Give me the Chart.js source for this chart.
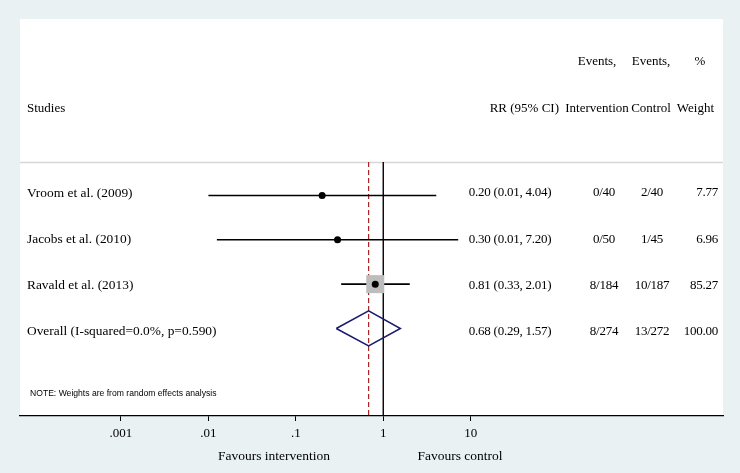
<!DOCTYPE html>
<html>
<head>
<meta charset="utf-8">
<script src="https://cdn.jsdelivr.net/npm/chart.js@4"></script>
<style>
  html, body { margin: 0; padding: 0; background: #e9f1f3; }
  #wrap { width: 740px; height: 473px; }
</style>
</head>
<body>
<div id="wrap"><canvas id="forest" width="740" height="473"></canvas></div>
<script>
// forest plot — RR with 95% CI per study, random effects pooled estimate

const studies = ['Vroom et al. (2009)', 'Jacobs et al. (2010)', 'Ravald et al. (2013)'];
const rr = [0.20, 0.30, 0.81];
const lower = [0.01, 0.0125, 0.33];
const upper = [4.04, 7.20, 2.01];
const weights = [7.77, 6.96, 85.27];
const eventsInt = ['0/40', '0/50', '8/184'];
const eventsCtl = ['2/40', '1/45', '10/187'];

const overallLabel = 'Overall (I-squared=0.0%, p=0.590)';
const overallRR = 0.68;
const overallLower = 0.29;
const overallUpper = 1.57;
const overallInt = '8/274';
const overallCtl = '13/272';
const overallWeight = 100.00;

const xTicks = [0.001, 0.01, 0.1, 1, 10];
const xTickLabels = ['.001', '.01', '.1', '1', '10'];

const COLORS = {
  page: '#e9f1f3',
  panel: '#ffffff',
  ink: '#000000',
  square: '#bdbdbd',
  diamond: '#1a1a6e',
  overallLine: '#a8282a',
  separator: '#d6d6d6',
};

const SERIF = "'Liberation Serif', 'Times New Roman', serif";
const SANS = "'Liberation Sans', Arial, sans-serif";

const Y_MIN = -3.98;
const Y_MAX = 4.974;
const SEP_Y = -0.756;
const OVERALL_ROW = studies.length;
const DIAMOND_H = 0.395;

// table text rows sit on a slightly wider pitch than the plotted marks
const TEXT_TOP = 193;
const TEXT_PITCH = 46.3;

const ciLines = studies.map((s, i) => ({
  type: 'line',
  data: [{ x: lower[i], y: i }, { x: upper[i], y: i }],
  borderColor: COLORS.ink,
  borderWidth: 1.6,
  pointRadius: 0,
  order: 3,
}));

const datasets = [
  ...ciLines,
  {
    type: 'line',
    data: [{ x: 1, y: SEP_Y }, { x: 1, y: Y_MAX }],
    borderColor: COLORS.ink,
    borderWidth: 1.4,
    pointRadius: 0,
    order: 4,
  },
  {
    type: 'line',
    data: [{ x: overallRR, y: SEP_Y }, { x: overallRR, y: Y_MAX }],
    borderColor: COLORS.overallLine,
    borderWidth: 1.2,
    borderDash: [5, 3],
    pointRadius: 0,
    order: 4,
  },
  {
    type: 'scatter',
    data: studies.map((s, i) => ({ x: rr[i], y: i })),
    pointStyle: 'rect',
    pointRadius: weights.map((w) => Math.sqrt(w) * 1.38),
    backgroundColor: COLORS.square,
    borderWidth: 0,
    order: 2,
  },
  {
    type: 'scatter',
    data: studies.map((s, i) => ({ x: rr[i], y: i })),
    pointStyle: 'circle',
    pointRadius: 3.5,
    backgroundColor: COLORS.ink,
    borderWidth: 0,
    order: 1,
  },
  {
    type: 'line',
    data: [
      { x: overallLower, y: OVERALL_ROW },
      { x: overallRR, y: OVERALL_ROW - DIAMOND_H },
      { x: overallUpper, y: OVERALL_ROW },
      { x: overallRR, y: OVERALL_ROW + DIAMOND_H },
      { x: overallLower, y: OVERALL_ROW },
    ],
    borderColor: COLORS.diamond,
    borderWidth: 1.5,
    pointRadius: 0,
    tension: 0,
    order: 1,
  },
];

function fmtCI(est, lo, hi) {
  return `${est.toFixed(2)} (${lo.toFixed(2)}, ${hi.toFixed(2)})`;
}

const panelPlugin = {
  id: 'panel',
  beforeDraw(chart) {
    const { ctx, chartArea: a, scales } = chart;
    ctx.save();
    ctx.fillStyle = COLORS.page;
    ctx.fillRect(0, 0, chart.width, chart.height);
    ctx.fillStyle = COLORS.panel;
    ctx.fillRect(a.left, a.top, a.right - a.left, a.bottom - a.top);
    const sy = Math.round(scales.y.getPixelForValue(SEP_Y)) + 0.5;
    ctx.strokeStyle = COLORS.separator;
    ctx.lineWidth = 1.5;
    ctx.beginPath();
    ctx.moveTo(a.left, sy);
    ctx.lineTo(a.right, sy);
    ctx.stroke();
    ctx.restore();
  },
};

const tablePlugin = {
  id: 'table',
  afterDraw(chart) {
    const { ctx } = chart;
    ctx.save();
    ctx.fillStyle = COLORS.ink;
    ctx.textBaseline = 'middle';
    ctx.font = `13px ${SERIF}`;

    const text = (s, x, yy, align) => {
      ctx.textAlign = align;
      ctx.fillText(s, x, yy);
    };

    // headers
    text('Events,', 597, 62, 'center');
    text('Events,', 651, 62, 'center');
    text('%', 700, 62, 'center');
    text('Studies', 27, 109, 'left');
    text('RR (95% CI)', 559, 109, 'right');
    text('Intervention', 597, 109, 'center');
    text('Control', 651, 109, 'center');
    text('Weight', 714, 109, 'right');

    const rows = studies.map((s, i) => [s, fmtCI(rr[i], lower[i], upper[i]), eventsInt[i], eventsCtl[i], weights[i].toFixed(2)]);
    rows.push([overallLabel, fmtCI(overallRR, overallLower, overallUpper), overallInt, overallCtl, overallWeight.toFixed(2)]);

    rows.forEach((r, i) => {
      const yy = TEXT_TOP + i * TEXT_PITCH;
      ctx.font = `13.4px ${SERIF}`;
      text(r[0], 27, yy, 'left');
      ctx.font = `13px ${SERIF}`;
      ctx.letterSpacing = '-0.25px';
      text(r[1], 510, yy, 'center');
      text(r[2], 604, yy, 'center');
      text(r[3], 652, yy, 'center');
      text(r[4], 718, yy, 'right');
      ctx.letterSpacing = '0px';
    });

    ctx.font = `8.6px ${SANS}`;
    text('NOTE: Weights are from random effects analysis', 30, 394, 'left');

    ctx.font = `13.5px ${SERIF}`;
    text('Favours intervention', 274, 456, 'center');
    text('Favours control', 460, 456, 'center');
    ctx.restore();
  },
};

new Chart(document.getElementById('forest'), {
  type: 'scatter',
  data: { datasets },
  options: {
    responsive: false,
    animation: false,
    events: [],
    layout: { padding: { left: 20, right: 17, top: 19, bottom: 0 } },
    plugins: { legend: { display: false }, tooltip: { enabled: false } },
    scales: {
      x: {
        type: 'logarithmic',
        min: Math.pow(10, -4.149),
        max: Math.pow(10, 3.886),
        afterBuildTicks: (s) => { s.ticks = xTicks.map((v) => ({ value: v })); },
        afterFit: (s) => { s.height = 57; },
        ticks: {
          autoSkip: false,
          maxRotation: 0,
          padding: 5,
          color: COLORS.ink,
          font: { family: SERIF, size: 13 },
          callback: (v, i) => xTickLabels[i],
        },
        grid: { drawOnChartArea: false, drawTicks: true, tickLength: 5, color: COLORS.ink },
        border: { display: true, color: COLORS.ink, width: 1.3 },
      },
      y: {
        type: 'linear',
        reverse: true,
        min: Y_MIN,
        max: Y_MAX,
        display: false,
      },
    },
  },
  plugins: [panelPlugin, tablePlugin],
});
</script>
</body>
</html>
